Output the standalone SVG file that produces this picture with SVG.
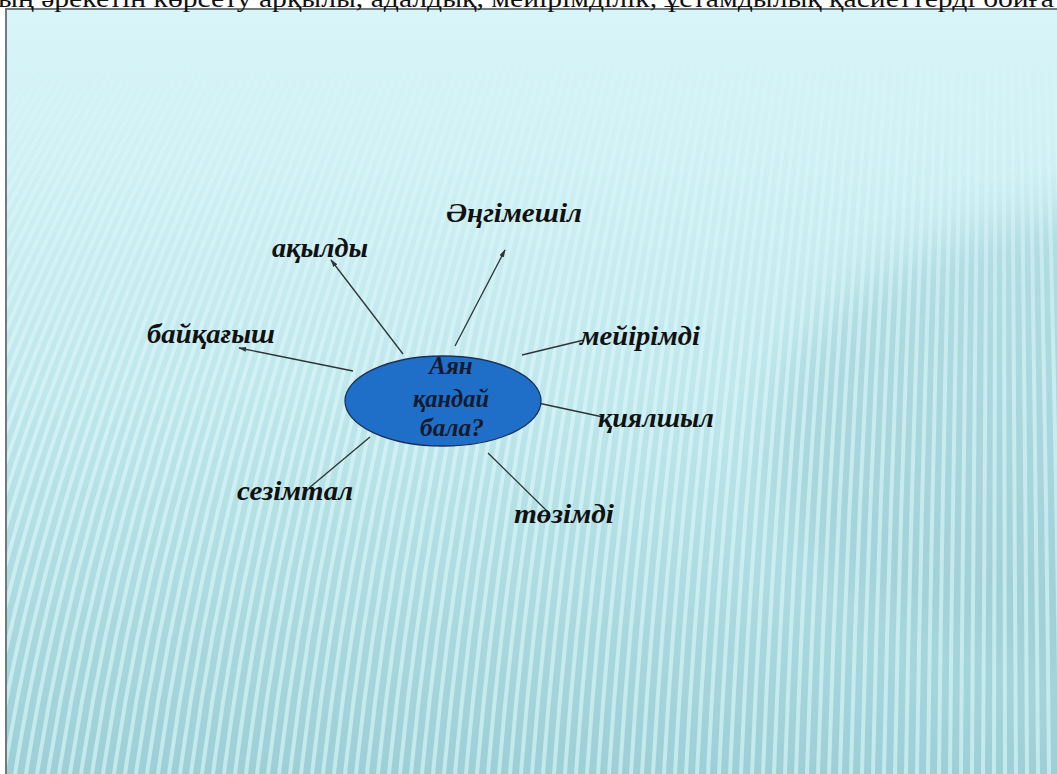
<svg xmlns="http://www.w3.org/2000/svg" width="1057" height="774" viewBox="0 0 1057 774">
<defs>
<style>
.lbl{font-family:"Liberation Serif","Times New Roman",serif;font-weight:bold;font-style:italic;font-size:27px;fill:#111}
.ctr{font-family:"Liberation Serif","Times New Roman",serif;font-weight:bold;font-style:italic;font-size:25px;fill:#151a30;text-anchor:middle}
.con{stroke:#2e3436;stroke-width:1.3;fill:none}
</style>
<linearGradient id="bg" x1="0" y1="0" x2="0" y2="1">
<stop offset="0" stop-color="#d8f5f9"/>
<stop offset="0.12" stop-color="#d3f2f6"/>
<stop offset="0.5" stop-color="#bfe7ec"/>
<stop offset="0.8" stop-color="#a9d9df"/>
<stop offset="1" stop-color="#9ccfd6"/>
</linearGradient>
<linearGradient id="fadeG" x1="0" y1="0" x2="0" y2="774" gradientUnits="userSpaceOnUse">
<stop offset="0.06" stop-color="#000"/>
<stop offset="0.2" stop-color="#fff" stop-opacity="0.7"/>
<stop offset="0.5" stop-color="#fff"/>
<stop offset="1" stop-color="#fff"/>
</linearGradient>
<mask id="fade" maskUnits="userSpaceOnUse" x="0" y="0" width="1057" height="774">
<rect x="0" y="0" width="1057" height="774" fill="url(#fadeG)"/>
</mask>
<filter id="soft" x="-50%" y="-50%" width="200%" height="200%"><feGaussianBlur stdDeviation="25"/></filter>
<clipPath id="slide"><rect x="6" y="9" width="1051" height="765"/></clipPath>
<marker id="arr" viewBox="0 0 10 6" refX="9" refY="3" markerWidth="8" markerHeight="5" orient="auto" markerUnits="userSpaceOnUse">
<path d="M0,0 L10,3 L0,6 Z" fill="#2e3436"/>
</marker>
</defs>
<rect x="0" y="0" width="1057" height="774" fill="#ffffff"/>
<g id="background" clip-path="url(#slide)">
<rect x="6" y="9" width="1051" height="765" fill="url(#bg)"/>
<ellipse cx="1130" cy="440" rx="360" ry="230" fill="#93c7cf" opacity="0.45" filter="url(#soft)"/>
<g mask="url(#fade)">
<path stroke="#e0f8fa" stroke-opacity="0.6" stroke-width="4" fill="none" d="M-403 774q84.2-374 350.8-734M-392 774q83.5-374 348-734M-381 774q82.9-374 345.3-734M-370 774q82.2-374 342.5-734M-359 774q81.5-374 339.8-734M-348 774q80.9-374 337-734M-337 774q80.2-374 334.3-734M-326 774q79.6-374 331.5-734M-315 774q78.9-374 328.8-734M-304 774q78.2-374 326-734M-293 774q77.6-374 323.3-734M-282 774q76.9-374 320.5-734M-271 774q76.3-374 317.8-734M-260 774q75.6-374 315-734M-249 774q74.9-374 312.3-734M-238 774q74.3-374 309.5-734M-227 774q73.6-374 306.8-734M-216 774q73-374 304-734M-205 774q72.3-374 301.3-734M-194 774q71.6-374 298.5-734M-183 774q71-374 295.8-734M-172 774q70.3-374 293-734M-161 774q69.7-374 290.3-734M-150 774q69-374 287.5-734M-139 774q68.3-374 284.8-734M-128 774q67.7-374 282-734M-117 774q67-374 279.3-734M-106 774q66.4-374 276.5-734M-95 774q65.7-374 273.8-734M-84 774q65-374 271-734M-73 774q64.4-374 268.3-734M-62 774q63.7-374 265.5-734M-51 774q63.1-374 262.8-734M-40 774q62.4-374 260-734M-29 774q61.7-374 257.3-734M-18 774q61.1-374 254.5-734M-7 774q60.4-374 251.8-734M4 774q59.8-374 249-734M15 774q59.1-374 246.3-734M26 774q58.4-374 243.5-734M37 774q57.8-374 240.8-734M48 774q57.1-374 238-734M59 774q56.5-374 235.3-734M70 774q55.8-374 232.5-734M81 774q55.1-374 229.8-734M92 774q54.5-374 227-734M103 774q53.8-374 224.3-734M114 774q53.2-374 221.5-734M125 774q52.5-374 218.8-734M136 774q51.8-374 216-734M147 774q51.2-374 213.3-734M158 774q50.5-374 210.5-734M169 774q49.9-374 207.8-734M180 774q49.2-374 205-734M191 774q48.5-374 202.3-734M202 774q47.9-374 199.5-734M213 774q47.2-374 196.8-734M224 774q46.6-374 194-734M235 774q45.9-374 191.3-734M246 774q45.2-374 188.5-734M257 774q44.6-374 185.8-734M268 774q43.9-374 183-734M279 774q43.3-374 180.3-734M290 774q42.6-374 177.5-734M301 774q41.9-374 174.8-734M312 774q41.3-374 172-734M323 774q40.6-374 169.3-734M334 774q40-374 166.5-734M345 774q39.3-374 163.8-734M356 774q38.6-374 161-734M367 774q38-374 158.3-734M378 774q37.3-374 155.5-734M389 774q36.7-374 152.8-734M400 774q36-374 150-734M411 774q35.3-374 147.3-734M422 774q34.7-374 144.5-734M433 774q34-374 141.8-734M444 774q33.4-374 139-734M455 774q32.7-374 136.3-734M466 774q32-374 133.5-734M477 774q31.4-374 130.8-734M488 774q30.7-374 128-734M499 774q30.1-374 125.3-734M510 774q29.4-374 122.5-734M521 774q28.7-374 119.8-734M532 774q28.1-374 117-734M543 774q27.4-374 114.3-734M554 774q26.8-374 111.5-734M565 774q26.1-374 108.8-734M576 774q25.4-374 106-734M587 774q24.8-374 103.3-734M598 774q24.1-374 100.5-734M609 774q23.5-374 97.8-734M620 774q22.8-374 95-734M631 774q22.1-374 92.3-734M642 774q21.5-374 89.5-734M653 774q20.8-374 86.8-734M664 774q20.2-374 84-734M675 774q19.5-374 81.3-734M686 774q18.8-374 78.5-734M697 774q18.2-374 75.8-734M708 774q17.5-374 73-734M719 774q16.9-374 70.3-734M730 774q16.2-374 67.5-734M741 774q15.5-374 64.8-734M752 774q14.9-374 62-734M763 774q14.2-374 59.3-734M774 774q13.6-374 56.5-734M785 774q12.9-374 53.8-734M796 774q12.2-374 51-734M807 774q11.6-374 48.3-734M818 774q10.9-374 45.5-734M829 774q10.3-374 42.8-734M840 774q9.6-374 40-734M851 774q8.9-374 37.3-734M862 774q8.3-374 34.5-734M873 774q7.6-374 31.8-734M884 774q7-374 29-734M895 774q6.3-374 26.3-734M906 774q5.6-374 23.5-734M917 774q5-374 20.8-734M928 774q4.3-374 18-734M939 774q3.7-374 15.3-734M950 774q3-374 12.5-734M961 774q2.3-374 9.8-734M972 774q1.7-374 7-734M983 774q1-374 4.3-734M994 774q0.4-374 1.5-734M1005 774q-0.3-374 -1.3-734M1016 774q-1-374 -4-734M1027 774q-1.6-374 -6.8-734M1038 774q-2.3-374 -9.5-734M1049 774q-2.9-374 -12.3-734M1060 774q-3.6-374 -15-734M1071 774q-4.3-374 -17.8-734"/>
</g>
</g>
<path d="M6,774 V9 H1057" fill="none" stroke="#6f7b7d" stroke-width="2"/>
<text x="-2" y="7" font-family="Liberation Serif, serif" font-size="25" fill="#111" textLength="1056" lengthAdjust="spacingAndGlyphs">ың әрекетін көрсету арқылы, адалдық, мейірімділік, ұстамдылық қасиеттерді бойға</text>
<g id="connectors">
<line class="con" x1="455" y1="346" x2="505" y2="250" marker-end="url(#arr)"/>
<line class="con" x1="403" y1="354" x2="331" y2="260" marker-end="url(#arr)"/>
<line class="con" x1="353" y1="371" x2="239" y2="348" marker-end="url(#arr)"/>
<line class="con" x1="522" y1="355" x2="584" y2="340"/>
<line class="con" x1="538" y1="403" x2="603" y2="417"/>
<line class="con" x1="488" y1="453" x2="548" y2="512"/>
<line class="con" x1="370" y1="437" x2="309" y2="488"/>
</g>
<g id="center">
<ellipse cx="443" cy="401" rx="98" ry="45" fill="#1f6fc9" stroke="#1b2f55" stroke-width="1.3"/>
<text class="ctr" x="451" y="374">Аян</text>
<text class="ctr" x="451" y="407" textLength="76" lengthAdjust="spacingAndGlyphs">қандай</text>
<text class="ctr" x="452" y="436" textLength="64" lengthAdjust="spacingAndGlyphs">бала?</text>
</g>
<g id="n-angimeshil"><text class="lbl" x="446" y="222" textLength="136" lengthAdjust="spacingAndGlyphs">Әңгімешіл</text></g>
<g id="n-akyldy"><text class="lbl" x="272" y="257" textLength="96" lengthAdjust="spacingAndGlyphs">ақылды</text></g>
<g id="n-baikagysh"><text class="lbl" x="147" y="343" textLength="128" lengthAdjust="spacingAndGlyphs">байқағыш</text></g>
<g id="n-meiirimdi"><text class="lbl" x="580" y="345" textLength="120" lengthAdjust="spacingAndGlyphs">мейірімді</text></g>
<g id="n-kiyalshyl"><text class="lbl" x="598" y="427" textLength="116" lengthAdjust="spacingAndGlyphs">қиялшыл</text></g>
<g id="n-tozimdi"><text class="lbl" x="514" y="523" textLength="100" lengthAdjust="spacingAndGlyphs">төзімді</text></g>
<g id="n-sezimtal"><text class="lbl" x="237" y="500" textLength="116" lengthAdjust="spacingAndGlyphs">сезімтал</text></g>
</svg>
